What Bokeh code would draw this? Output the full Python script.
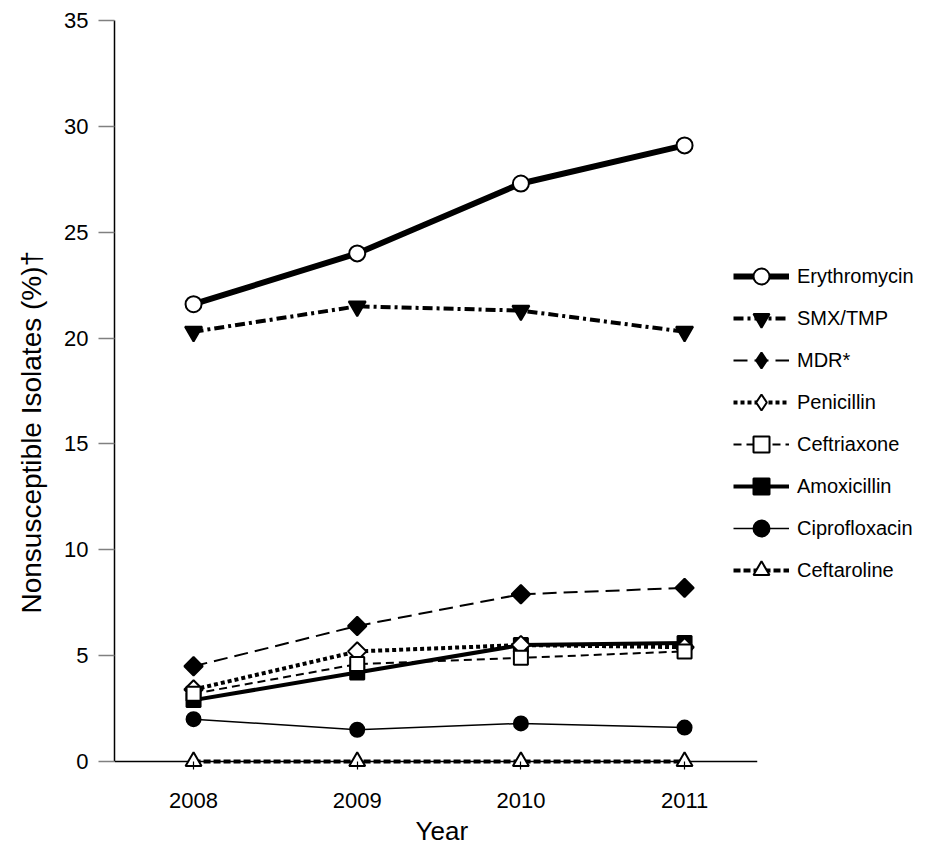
import math
from bokeh.plotting import figure
from bokeh.models import FixedTicker, Legend, LegendItem, Range1d, Title
from bokeh.embed import file_html
from bokeh.resources import INLINE

# ---- data ----
years = [2008, 2009, 2010, 2011]
erythromycin = [21.6, 24.0, 27.3, 29.1]
smx_tmp = [20.3, 21.5, 21.3, 20.3]
mdr = [4.5, 6.4, 7.9, 8.2]
penicillin = [3.4, 5.2, 5.5, 5.4]
ceftriaxone = [3.2, 4.6, 4.9, 5.2]
amoxicillin = [2.9, 4.2, 5.5, 5.6]
ciprofloxacin = [2.0, 1.5, 1.8, 1.6]
ceftaroline = [0.0, 0.0, 0.0, 0.0]
y_ticks = [0, 5, 10, 15, 20, 25, 30, 35]

FONT = "Liberation Sans"

X_START = 2007.517
X_END = X_START + 805 / 163.67
X_AXIS_END = 2011.444
Y_START = -0.378
Y_END = 35

p = figure(width=919, height=849, output_backend="svg", toolbar_location=None,
           x_range=Range1d(X_START, X_END), y_range=Range1d(Y_START, Y_END),
           min_border_left=114, min_border_top=20, min_border_bottom=80,
           min_border_right=0)
p.outline_line_color = None
p.grid.visible = False
p.background_fill_color = "white"

# y axis
ya = p.yaxis[0]
ya.ticker = FixedTicker(ticks=y_ticks)
ya.bounds = (0, 35)
ya.axis_line_color = "black"
ya.axis_line_width = 1.5
ya.major_tick_out = 16
ya.major_tick_in = 0
ya.major_tick_line_color = "#808080"
ya.major_tick_line_width = 1.5
ya.minor_tick_line_color = None
ya.major_label_standoff = 10
ya.major_label_text_font = FONT
ya.major_label_text_font_size = "22px"
ya.major_label_text_color = "black"

# x axis (ticks drawn inward from frame bottom to reach the y = 0 line)
xa = p.xaxis[0]
xa.ticker = FixedTicker(ticks=years)
xa.bounds = (X_START, X_AXIS_END)
xa.axis_line_color = None
xa.major_tick_in = 8
xa.major_tick_out = 0
xa.major_tick_line_color = "black"
xa.major_tick_line_width = 1.2
xa.minor_tick_line_color = None
xa.major_label_standoff = 23
xa.major_label_text_font = FONT
xa.major_label_text_font_size = "22px"
xa.major_label_text_color = "black"

# axis titles (as side titles so they can be offset along the axis)
p.add_layout(Title(text="Nonsusceptible Isolates (%)\u2020", align="left", offset=156,
                   vertical_align="top", standoff=26, text_font=FONT,
                   text_font_size="28px", text_font_style="normal", text_color="black"), "left")
p.add_layout(Title(text="Year", align="left", offset=301, vertical_align="bottom", standoff=7,
                   text_font=FONT, text_font_size="26px", text_font_style="normal",
                   text_color="black"), "below")

# baseline at y = 0
p.segment(x0=[X_START], y0=[0], x1=[X_AXIS_END], y1=[0], line_color="black", line_width=1.5)

series = {
    "Erythromycin": dict(y=erythromycin, lw=6, dash="solid", marker="circle", size=16, fill="white", angle=0),
    "SMX/TMP": dict(y=smx_tmp, lw=4, dash="10 4 3 4", marker="inverted_triangle", size=17, fill="black", angle=0),
    "MDR*": dict(y=mdr, lw=2, dash="14 7", marker="square", size=13, fill="black", angle=math.pi / 4),
    "Penicillin": dict(y=penicillin, lw=4, dash="4 3", marker="square", size=13, fill="white", angle=math.pi / 4),
    "Ceftriaxone": dict(y=ceftriaxone, lw=2, dash="8 5", marker="square", size=14, fill="white", angle=0),
    "Amoxicillin": dict(y=amoxicillin, lw=4, dash="solid", marker="square", size=14, fill="black", angle=0),
    "Ciprofloxacin": dict(y=ciprofloxacin, lw=1.5, dash="solid", marker="circle", size=14, fill="black", angle=0),
    "Ceftaroline": dict(y=ceftaroline, lw=4, dash="7 3", marker="triangle", size=16, fill="white", angle=0),
}

draw_order = ["Ceftaroline", "Ciprofloxacin", "Amoxicillin", "Penicillin", "Ceftriaxone",
              "MDR*", "SMX/TMP", "Erythromycin"]
renderers = {}
for name in draw_order:
    s = series[name]
    lr = p.line(years, s["y"], line_color="black", line_width=s["lw"], line_dash=s["dash"])
    legend_marks = [lr]
    if s["angle"]:
        # diamond shape for the legend key (legend keys ignore marker rotation)
        dr = p.scatter(years, s["y"], marker="diamond", size=0, fill_color=s["fill"],
                       line_color="black", line_width=2)
        legend_marks.append(dr)
    sr = p.scatter(years, s["y"], marker=s["marker"], size=s["size"], angle=s["angle"],
                   fill_color=s["fill"], line_color="black", line_width=2)
    if not s["angle"]:
        legend_marks.append(sr)
    renderers[name] = legend_marks

items = [LegendItem(label=name, renderers=renderers[name]) for name in series]
legend = Legend(items=items, location=(619, 179), padding=0, margin=0,
                glyph_width=56, glyph_height=40, label_height=20, spacing=2,
                label_standoff=8, label_text_font=FONT, label_text_font_size="20px",
                label_text_color="black", border_line_color=None,
                background_fill_alpha=0)
p.add_layout(legend)

open("out.html", "w").write(file_html(p, INLINE))
